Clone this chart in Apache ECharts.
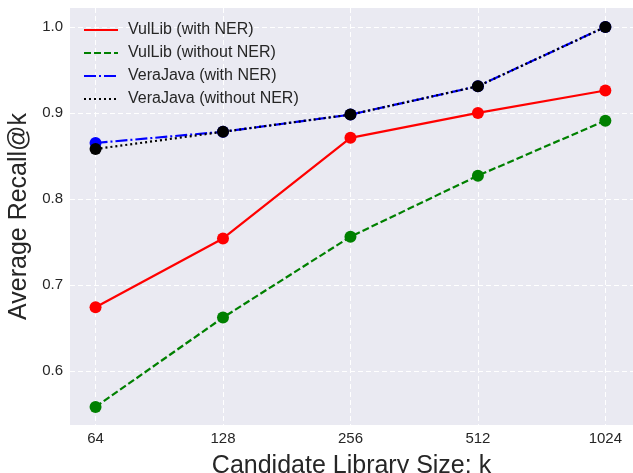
<!DOCTYPE html>
<html><head><meta charset="utf-8">
<script src="https://cdn.jsdelivr.net/npm/echarts@6/dist/echarts.min.js"></script>
<style>html,body{margin:0;padding:0;background:#fff}#c{width:633px;height:473px}</style>
</head><body><div id="c"></div>
<script>
const categories = [64, 128, 256, 512, 1024];
const vulLibNER = [0.674, 0.754, 0.871, 0.900, 0.926];
const vulLibNoNER = [0.558, 0.662, 0.756, 0.827, 0.891];
const veraJavaNER = [0.865, 0.878, 0.898, 0.931, 1.000];
const veraJavaNoNER = [0.858, 0.878, 0.898, 0.931, 1.000];
const yTicks = [0.6, 0.7, 0.8, 0.9, 1.0];
const seriesNames = ['VulLib (with NER)', 'VulLib (without NER)', 'VeraJava (with NER)', 'VeraJava (without NER)'];

const font = '"Liberation Sans", Arial, sans-serif';
function mk(name, vals, color, type) {
  return {
    name: name, type: 'line',
    data: categories.map((c, i) => [c, vals[i]]),
    symbol: 'circle', symbolSize: 12,
    itemStyle: { color: color },
    lineStyle: { color: color, width: 2.2, type: type },
    emphasis: { disabled: true }
  };
}
const chart = echarts.init(document.getElementById('c'));
chart.setOption({
  animation: false,
  backgroundColor: '#ffffff',
  grid: { left: 70, right: 0, top: 8, bottom: 48, containLabel: false, outerBoundsMode: 'none', show: true, backgroundColor: '#EAEAF2', borderWidth: 0 },
  legend: {
    left: 78, top: 17, orient: 'vertical',
    itemWidth: 34, itemHeight: 16, itemGap: 7,
    itemStyle: { opacity: 0 },
    textStyle: { fontFamily: font, fontSize: 16, lineHeight: 16, color: '#262626', padding: [0, 0, 0, 5] },
    data: seriesNames
  },
  xAxis: {
    type: 'log', logBase: 2, min: 55.7, max: 1190,
    name: 'Candidate Library Size: k', nameLocation: 'middle', nameGap: 29,
    nameTextStyle: { fontFamily: font, fontSize: 25, color: '#262626' },
    axisLine: { show: false }, axisTick: { show: false, customValues: categories },
    axisLabel: { customValues: categories, fontFamily: font, fontSize: 15, color: '#262626', margin: 6, formatter: v => String(Math.round(v)) },
    splitLine: { show: true, lineStyle: { color: '#ffffff', type: [5, 3], width: 1 } }
  },
  yAxis: {
    type: 'value', min: 0.537, max: 1.022,
    name: 'Average Recall@k', nameLocation: 'middle', nameGap: 30,
    nameTextStyle: { fontFamily: font, fontSize: 25, lineHeight: 16, color: '#262626' },
    axisLine: { show: false }, axisTick: { show: false, customValues: yTicks },
    axisLabel: { customValues: yTicks, fontFamily: font, fontSize: 15, color: '#262626', margin: 7, formatter: v => v.toFixed(1) },
    splitLine: { show: true, lineStyle: { color: '#ffffff', type: [5, 3], width: 1 } }
  },
  series: [
    mk(seriesNames[0], vulLibNER, '#ff0000', 'solid'),
    mk(seriesNames[1], vulLibNoNER, '#008000', [7, 3]),
    mk(seriesNames[2], veraJavaNER, '#0000ff', [12, 3, 2, 3]),
    mk(seriesNames[3], veraJavaNoNER, '#000000', [2, 3])
  ]
});
</script></body></html>
